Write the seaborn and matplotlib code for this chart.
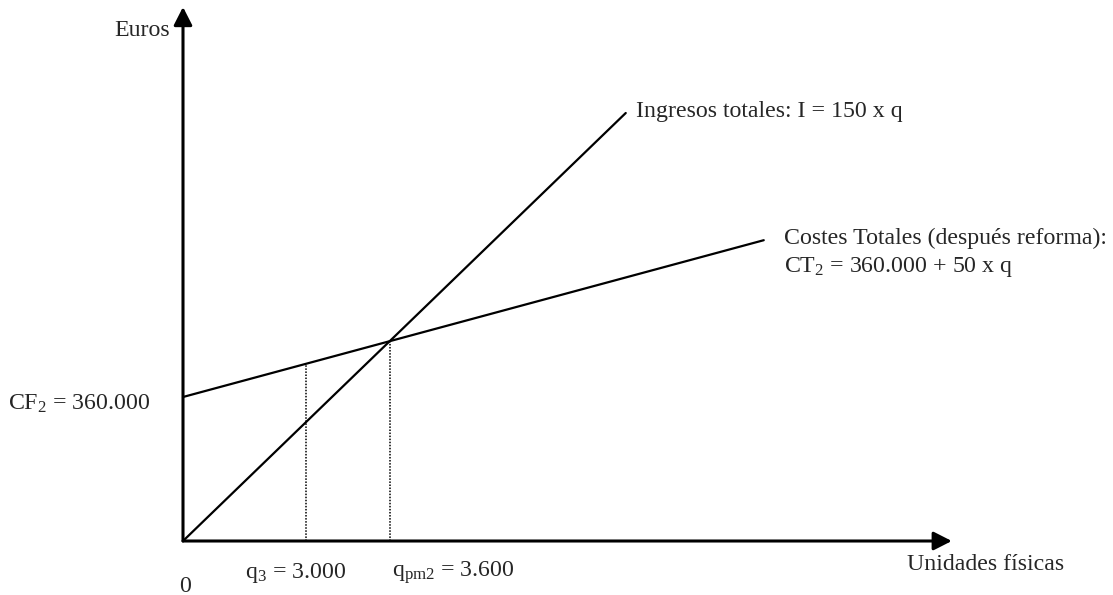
import numpy as np
import pandas as pd
import matplotlib
matplotlib.use("Agg")
import matplotlib.pyplot as plt
import seaborn as sns

# Datos del gráfico (punto muerto, esquema)
ingresos_q = [0, 7700]
ingresos_eur = [0, 1070000]
costes_q = [0, 10100]
costes_eur = [360000, 752000]
guias_q = [2140, 3600]          # q3 y punto muerto
guias_eur = [443000, 500000]    # corte con los costes totales
eje_x_max = 13370
eje_y_max = 1335000

etiqueta_ingresos = "Ingresos totales: I = 150 x q"
etiqueta_costes = ["Costes Totales (después reforma):", "CT$_{2}$ = 360.000 + 50 x q"]
etiqueta_cf = "CF$_{2}$ = 360.000"
etiquetas_guias = ["q$_{3}$ = 3.000", "q$_{\\mathrm{pm2}}$ = 3.600"]

sns.set_style("white")
plt.rcParams['font.family'] = ['Liberation Serif', 'DejaVu Serif']
plt.rcParams['mathtext.fontset'] = 'custom'
plt.rcParams['mathtext.rm'] = 'Liberation Serif'
plt.rcParams['mathtext.it'] = 'Liberation Serif'

fig = plt.figure(figsize=(11.13, 5.95), dpi=100)
ax = fig.add_axes([0, 0, 1, 1])

# escala: unidades por pixel
q_px = 3600 / 207
e_px = 2500
ax.set_xlim(-183 * q_px, (1113 - 183) * q_px)
ax.set_ylim(-54 * e_px, 541 * e_px)
ax.axis("off")

df_i = pd.DataFrame({"q": ingresos_q, "eur": ingresos_eur})
df_c = pd.DataFrame({"q": costes_q, "eur": costes_eur})
sns.lineplot(data=df_i, x="q", y="eur", color="black", lw=1.6, ax=ax)
sns.lineplot(data=df_c, x="q", y="eur", color="black", lw=1.6, ax=ax)

# líneas de puntos
for q, e in zip(guias_q, guias_eur):
    ax.plot([q, q], [0, e], color="black", lw=1.1, ls=(0, (1, 1)))

# ejes con flechas
flecha = dict(arrowstyle="-|>,head_length=0.55,head_width=0.28", color="black",
              lw=2.2, mutation_scale=20, shrinkA=0, shrinkB=0)
ax.annotate("", xy=(eje_x_max, 0), xytext=(0, 0), arrowprops=flecha)
ax.annotate("", xy=(0, eje_y_max), xytext=(0, 0), arrowprops=flecha)

fs = 17.2
def texto(s, xy, dx, dy, ha="left"):
    ax.annotate(s, xy=xy, xytext=(dx * 0.72, -dy * 0.72), textcoords="offset points",
                ha=ha, va="center", fontsize=fs)

texto("Euros", (0, eje_y_max), -13, 23, ha="right")
texto(etiqueta_cf, (0, costes_eur[0]), -33, 7, ha="right")
texto("0", (0, 0), 2, 45, ha="center")
texto(etiquetas_guias[0], (guias_q[0], 0), -10, 32, ha="center")
texto(etiquetas_guias[1], (guias_q[1], 0), 2, 32)
texto(etiqueta_ingresos, (ingresos_q[1], ingresos_eur[1]), 10, -1)
texto(etiqueta_costes[0], (costes_q[1], costes_eur[1]), 20, -2)
texto(etiqueta_costes[1], (costes_q[1], costes_eur[1]), 20, 27)
texto("Unidades físicas", (eje_x_max, 0), -45, 23)

plt.savefig("out.png", dpi=100)
